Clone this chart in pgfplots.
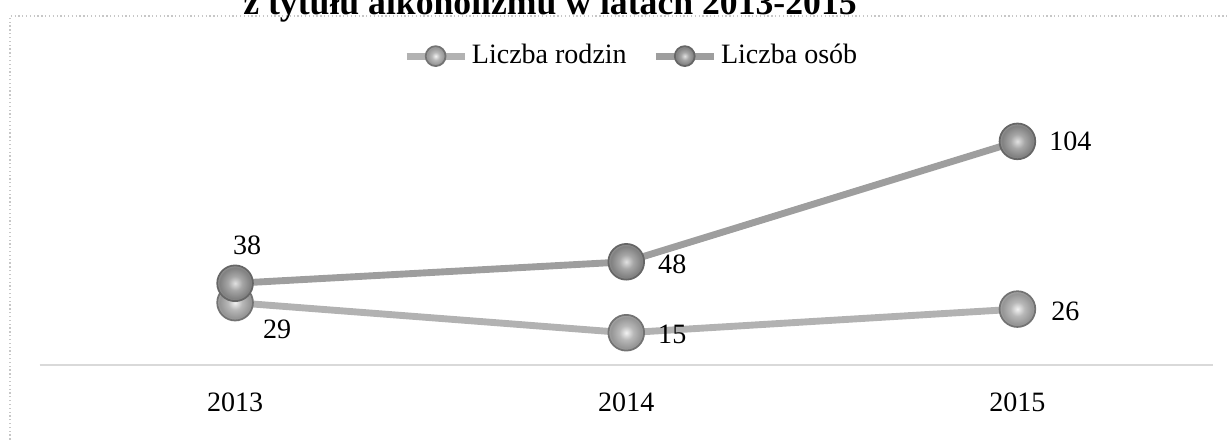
\documentclass[border=0pt]{standalone}
\usepackage{fontspec}
\setmainfont{Liberation Serif}
\usepackage{pgfplots}
\usepackage{pgfplotstable}
\pgfplotsset{compat=1.18}

% one pixel of the reference
\def\px{0.0138cm}

% liczba rodzin / liczba osob, dx dy = label offset in px
\pgfplotstableread{
x y dx dy
0 29 42 -27
1 15 46 -2
2 26 48 -2
}\rodziny
\pgfplotstableread{
x y dx dy
0 38 12 38
1 48 46 -3
2 104 53 0
}\osoby

\pgfdeclareradialshading{kulaA}{\pgfpointorigin}{color(0bp)=(black!5); color(10bp)=(black!28); color(22bp)=(black!42); color(30bp)=(black!20); color(38bp)=(black!38); color(46bp)=(black!62); color(50bp)=(black!50)}
\pgfdeclareradialshading{kulaB}{\pgfpointorigin}{color(0bp)=(black!12); color(10bp)=(black!35); color(22bp)=(black!50); color(30bp)=(black!25); color(38bp)=(black!45); color(46bp)=(black!68); color(50bp)=(black!55)}
\pgfdeclareplotmark{kulaA}{%
  \pgfpathcircle{\pgfpointorigin}{\pgfplotmarksize}%
  \pgfshadepath{kulaA}{0}%
  \pgfpathcircle{\pgfpointorigin}{\pgfplotmarksize}%
  \pgfusepathqstroke}
\pgfdeclareplotmark{kulaB}{%
  \pgfpathcircle{\pgfpointorigin}{\pgfplotmarksize}%
  \pgfshadepath{kulaB}{0}%
  \pgfpathcircle{\pgfpointorigin}{\pgfplotmarksize}%
  \pgfusepathqstroke}

\begin{document}
\begin{tikzpicture}[x=\px, y=\px]
  % chart frame and (cut) title
  \draw[black!22, densely dotted, line width=0.5pt] (10,-10)--(10,425)--(1240,425);
  \node[font=\fontsize{14}{16}\selectfont\bfseries, anchor=base] at (550,426) {z tytułu alkoholizmu w latach 2013-2015};

  \begin{axis}[
      at={(39.5*\px,76*\px)}, anchor=south west,
      scale only axis,
      width=16.187cm, height=3.657cm,
      xmin=-0.5, xmax=2.5,
      ymin=0, ymax=123.3,
      clip=false,
      axis x line*=bottom,
      axis y line=none,
      x axis line style={-, draw=black!15, line width=0.6pt},
      xtick={0,1,2},
      xticklabels={2013,2014,2015},
      major tick length=0pt,
      ytick=\empty,
      xticklabel style={font=\fontsize{11}{13}\selectfont, anchor=center, yshift=-37*\px},
      /pgf/number format/assume math mode=true,
      nodes near coords,
      nodes near coords style={font=\fontsize{11}{13}\selectfont, anchor=center,
        xshift=\dx*\px, yshift=\dy*\px},
      legend style={at={(0.505,1.165)}, anchor=center, draw=none, fill=none,
        legend columns=2, font=\fontsize{11}{13}\selectfont,
        nodes={inner sep=1.5pt},
        /tikz/every even column/.append style={column sep=0.3cm}},
      legend image code/.code={
        \draw[#1] (0cm,0cm)--(0.8cm,0cm);
        \draw[#1, mark size=3.9pt] plot coordinates {(0.4cm,0cm)};
      },
    ]

    \addplot[draw=black!30, line width=2.7pt, mark=kulaA, mark size=7pt,
      mark options={draw=black!55, line width=0.7pt},
      visualization depends on={\thisrow{dx} \as \dx},
      visualization depends on={\thisrow{dy} \as \dy}]
      table[x=x, y=y] {\rodziny};

    \addplot[draw=black!38, line width=2.7pt, mark=kulaB, mark size=7pt,
      mark options={draw=black!60, line width=0.7pt},
      visualization depends on={\thisrow{dx} \as \dx},
      visualization depends on={\thisrow{dy} \as \dy}]
      table[x=x, y=y] {\osoby};

    \legend{Liczba rodzin, Liczba osób}
  \end{axis}

  \pgfresetboundingbox
  \useasboundingbox (0,0) rectangle (1228,441);
\end{tikzpicture}
\end{document}
